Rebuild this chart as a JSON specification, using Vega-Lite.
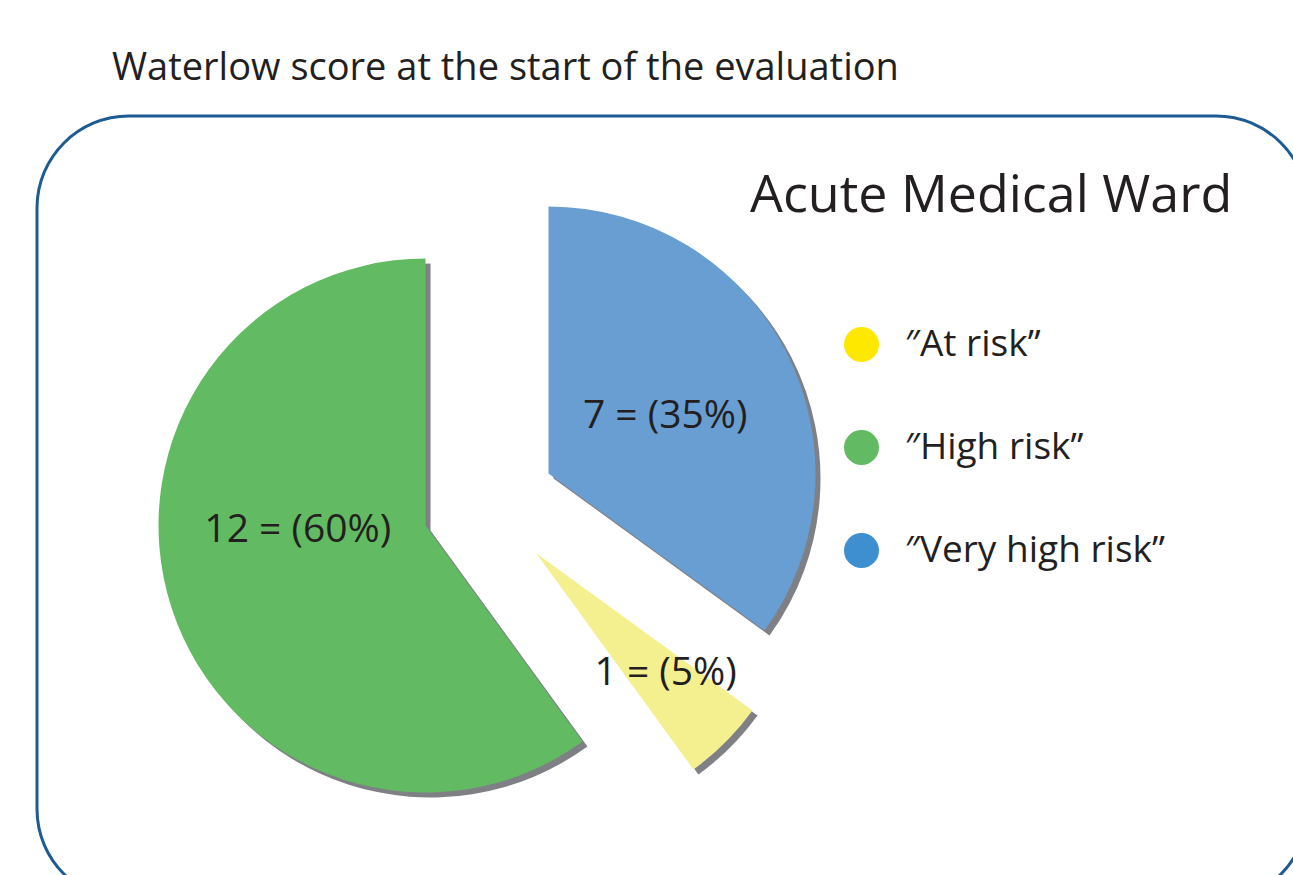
{
  "$schema": "https://vega.github.io/schema/vega-lite/v6.json",
  "width": 1271,
  "height": 785,
  "autosize": {"type": "none"},
  "padding": {"left": 37, "top": 116, "right": -15, "bottom": -26},
  "background": "white",
  "view": {"stroke": "#1d5b93", "strokeWidth": 3, "cornerRadius": 92, "fill": null},
  "title": {
    "text": "Waterlow score at the start of the evaluation",
    "anchor": "start",
    "frame": "group",
    "dx": 75,
    "offset": -2,
    "baseline": "alphabetic",
    "font": "Open Sans",
    "fontSize": 38,
    "fontWeight": "normal",
    "color": "#231f20"
  },
  "data": {
    "values": [
      {"category": "″At risk”", "key": "at", "count": 1, "order": 2, "label": "1 = (5%)"},
      {"category": "″High risk”", "key": "high", "count": 12, "order": 3, "label": "12 = (60%)"},
      {"category": "″Very high risk”", "key": "very", "count": 7, "order": 1, "label": "7 = (35%)"}
    ]
  },
  "encoding": {
    "theta": {"field": "count", "type": "quantitative", "stack": true},
    "order": {"field": "order", "type": "quantitative"},
    "detail": {"field": "category", "type": "nominal"}
  },
  "layer": [
    {
      "mark": {"type": "arc", "radius": 267, "opacity": 0},
      "encoding": {
        "color": {
          "field": "category",
          "type": "nominal",
          "scale": {"domain": ["″At risk”", "″High risk”", "″Very high risk”"], "range": ["#ffe800", "#62bb62", "#3d8fd0"]},
          "legend": {
            "orient": "none",
            "legendX": 713,
            "legendY": 55,
            "title": "Acute Medical Ward",
            "titleFont": "Open Sans",
            "titleFontSize": 52,
            "titleFontWeight": "normal",
            "titleColor": "#231f20",
            "titlePadding": 103,
            "titleLimit": 1000,
            "symbolType": "circle",
            "symbolSize": 1225,
            "symbolStrokeWidth": 0,
            "symbolOffset": 93,
            "symbolOpacity": 1,
            "labelFont": "Open Sans",
            "labelFontSize": 37,
            "labelColor": "#231f20",
            "labelOffset": 25,
            "labelLimit": 1000,
            "rowPadding": 65,
            "padding": 0
          }
        }
      }
    },
    {
      "mark": {"type": "arc", "radius": 267, "fill": "#7f8085", "xOffset": -242, "yOffset": 22},
      "encoding": {"opacity": {"condition": {"test": "datum.key === 'high'", "value": 1}, "value": 0}}
    },
    {
      "mark": {"type": "arc", "radius": 267, "fill": "#7f8085", "xOffset": -119, "yOffset": -30},
      "encoding": {"opacity": {"condition": {"test": "datum.key === 'very'", "value": 1}, "value": 0}}
    },
    {
      "mark": {"type": "arc", "radius": 267, "fill": "#7f8085", "xOffset": -131, "yOffset": 50},
      "encoding": {"opacity": {"condition": {"test": "datum.key === 'at'", "value": 1}, "value": 0}}
    },
    {
      "mark": {"type": "arc", "radius": 267, "xOffset": -247, "yOffset": 17},
      "encoding": {
        "fill": {
          "field": "category",
          "type": "nominal",
          "scale": {"domain": ["″At risk”", "″High risk”", "″Very high risk”"], "range": ["#f5f08f", "#62bb62", "#699ed3"]},
          "legend": null
        },
        "opacity": {"condition": {"test": "datum.key === 'high'", "value": 1}, "value": 0}
      }
    },
    {
      "mark": {"type": "arc", "radius": 267, "xOffset": -124, "yOffset": -35},
      "encoding": {
        "fill": {"field": "category", "type": "nominal", "legend": null},
        "opacity": {"condition": {"test": "datum.key === 'very'", "value": 1}, "value": 0}
      }
    },
    {
      "mark": {"type": "arc", "radius": 267, "xOffset": -136, "yOffset": 45},
      "encoding": {
        "fill": {"field": "category", "type": "nominal", "legend": null},
        "opacity": {"condition": {"test": "datum.key === 'at'", "value": 1}, "value": 0}
      }
    },
    {
      "mark": {"type": "text", "radius": 130, "xOffset": -247, "yOffset": 17, "dx": -4, "dy": -36, "font": "Open Sans", "fontSize": 39, "color": "#231f20", "align": "center", "baseline": "middle"},
      "encoding": {
        "text": {"field": "label", "type": "nominal"},
        "opacity": {"condition": {"test": "datum.key === 'high'", "value": 1}, "value": 0}
      }
    },
    {
      "mark": {"type": "text", "radius": 131, "xOffset": -124, "yOffset": -35, "dy": 2, "font": "Open Sans", "fontSize": 39, "color": "#231f20", "align": "center", "baseline": "middle"},
      "encoding": {
        "text": {"field": "label", "type": "nominal"},
        "opacity": {"condition": {"test": "datum.key === 'very'", "value": 1}, "value": 0}
      }
    },
    {
      "mark": {"type": "text", "radius": 177, "xOffset": -136, "yOffset": 45, "dx": 4, "dy": -6, "font": "Open Sans", "fontSize": 39, "color": "#231f20", "align": "center", "baseline": "middle"},
      "encoding": {
        "text": {"field": "label", "type": "nominal"},
        "opacity": {"condition": {"test": "datum.key === 'at'", "value": 1}, "value": 0}
      }
    }
  ]
}
